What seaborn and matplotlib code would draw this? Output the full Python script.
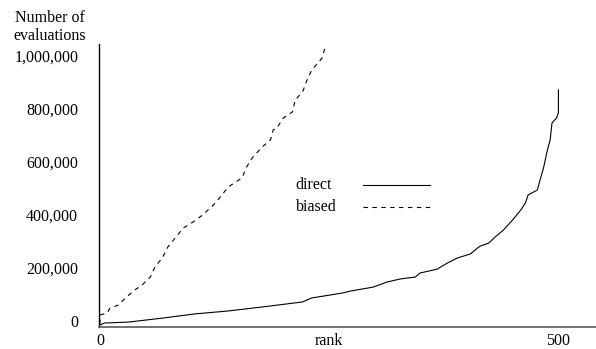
import numpy as np
import matplotlib
matplotlib.use('Agg')
import matplotlib.pyplot as plt
import matplotlib.transforms as mtransforms
import pandas as pd
import seaborn as sns

plt.rcParams['font.family'] = ['Liberation Serif', 'DejaVu Serif']

# direct (solid) curve
direct_rank = [0, 5, 31, 68, 104, 140, 177, 221, 231, 265, 273, 298, 313, 328, 344,
               349, 368, 379, 390, 404, 412, 415, 424, 431, 440, 450, 459, 464, 467,
               477, 480, 484, 488, 491, 493, 498, 500, 500]
direct_evals = [0, 7500, 11000, 26000, 42000, 53000, 68000, 87000, 102000, 121000,
                128000, 143000, 162000, 174000, 181000, 196000, 211000, 234000, 253000,
                268000, 291000, 298000, 309000, 332000, 358000, 396000, 434000, 460000,
                491000, 509000, 547000, 596000, 660000, 698000, 762000, 781000, 800000,
                887000]

# biased (dashed) curve
biased_rank = [0, 0, 0, 8, 11, 20, 29, 38, 46, 55, 60, 68, 74, 82, 91, 100, 112, 126,
               140, 155, 160, 166, 177, 186, 189, 193, 200, 210, 213, 221, 226, 231,
               238, 243, 246]
biased_evals = [5000, 19000, 38000, 45000, 64000, 75000, 106000, 132000, 151000, 181000,
                219000, 253000, 294000, 328000, 366000, 385000, 415000, 460000, 521000,
                555000, 596000, 630000, 672000, 698000, 736000, 743000, 781000, 804000,
                849000, 879000, 925000, 962000, 989000, 1011000, 1057000]

yticks = [0, 200000, 400000, 600000, 800000, 1000000]
ytick_labels = ['0', '200,000', '400,000', '600,000', '800,000', '1,000,000']
xticks = [0, 250, 500]
xtick_labels = ['0', 'rank', '500']

df = pd.concat([
    pd.DataFrame({'rank': direct_rank, 'evals': direct_evals, 'method': 'direct'}),
    pd.DataFrame({'rank': biased_rank, 'evals': biased_evals, 'method': 'biased'}),
])

fig = plt.figure(figsize=(5.96, 3.49), dpi=100)
ax = fig.add_axes([99 / 596, 22 / 349, 497 / 596, 283 / 349])

sns.lineplot(data=df, x='rank', y='evals', style='method',
             dashes={'direct': '', 'biased': (4, 4)}, color='black', lw=0.8,
             estimator=None, sort=False, legend=False, ax=ax)

ax.set_xlim(-1, 541)
ax.set_ylim(-7500, 1060000)
ax.set_xticks(xticks)
ax.set_xticklabels(xtick_labels)
ax.set_yticks(yticks)
ax.set_yticklabels(ytick_labels)
ax.tick_params(length=0, labelsize=11.5)
ax.tick_params(axis='y', pad=15)
ax.tick_params(axis='x', pad=4)
ax.set_xlabel('')
ax.set_ylabel('')

# y labels sit a few pixels above their values in the original
shift = mtransforms.ScaledTranslation(0, 4 / 100, fig.dpi_scale_trans)
for lab in ax.get_yticklabels():
    lab.set_transform(lab.get_transform() + shift)

for s in ['top', 'right']:
    ax.spines[s].set_visible(False)
ax.spines['left'].set_linewidth(1.0)
ax.spines['bottom'].set_linewidth(1.3)
ax.spines['bottom'].set_color('#666666')

# legend, text on the left and line sample on the right
ax.text(0.396, 0.502, 'direct', transform=ax.transAxes, ha='left', va='center', fontsize=11.5)
ax.text(0.396, 0.424, 'biased', transform=ax.transAxes, ha='left', va='center', fontsize=11.5)
ax.plot([0.531, 0.666], [0.502, 0.502], transform=ax.transAxes, color='black', lw=0.8)
ax.plot([0.531, 0.666], [0.424, 0.424], transform=ax.transAxes, color='black', lw=0.8,
        dashes=(4, 4))

fig.text(50 / 596, 1 - 27 / 349, 'Number of\nevaluations', ha='center', va='center',
         fontsize=11.5, linespacing=1.25)

fig.savefig('out.png', dpi=100)
